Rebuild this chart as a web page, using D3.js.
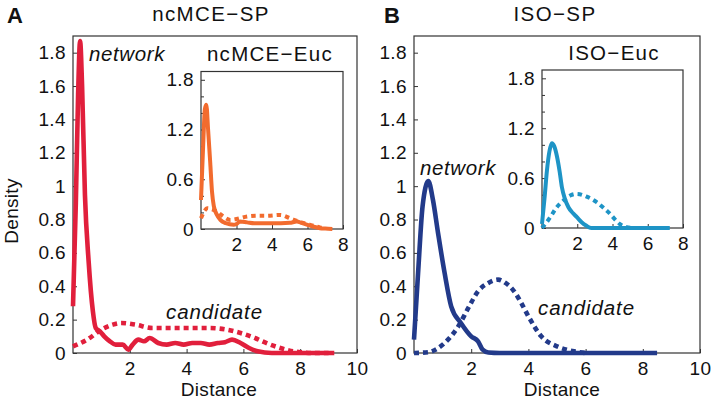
<!DOCTYPE html>
<html><head><meta charset="utf-8">
<script src="https://cdn.jsdelivr.net/npm/d3@7"></script>
<style>body{margin:0;background:#fff}svg{display:block;font-family:"Liberation Sans",Arial,sans-serif}</style>
</head><body><svg id="c" width="716" height="401"></svg>
<script>
// ---- data ----
const mainYTicks = [0,0.2,0.4,0.6,0.8,1,1.2,1.4,1.6,1.8];
const mainXTicks = [2,4,6,8,10];
const insetYTicks = [0,0.6,1.2,1.8];
const insetYMinor = [0.2,0.4,0.8,1.0,1.4,1.6];
const insetXTicks = [2,4,6,8];

const ncmceSpNetwork = [[0,0.28],[0.1,0.9],[0.18,1.55],[0.25,1.87],[0.32,1.6],[0.42,0.95],[0.55,0.55],[0.7,0.25],[0.8,0.15],[0.95,0.13],[1.1,0.1],[1.3,0.07],[1.5,0.05],[1.75,0.05],[1.95,0.02],[2.1,0.05],[2.3,0.08],[2.5,0.07],[2.7,0.09],[3.0,0.06],[3.3,0.05],[3.6,0.06],[3.9,0.05],[4.2,0.06],[4.5,0.06],[4.8,0.05],[5.1,0.06],[5.35,0.065],[5.6,0.08],[5.9,0.06],[6.2,0.03],[6.5,0.01],[7.0,0.0],[8.0,0.0],[9.2,0.0]];
const ncmceSpCandidate = [[0,0.04],[0.5,0.08],[1.0,0.14],[1.4,0.17],[1.7,0.18],[2.2,0.17],[2.8,0.15],[3.5,0.15],[4.2,0.15],[4.8,0.15],[5.4,0.14],[5.9,0.12],[6.4,0.09],[6.8,0.06],[7.2,0.035],[7.6,0.015],[8.0,0.005],[8.5,0.0],[9.0,0.0]];
const ncmceEucNetwork = [[0,0.35],[0.12,1.0],[0.22,1.45],[0.3,1.5],[0.4,1.2],[0.52,0.8],[0.62,0.45],[0.72,0.28],[0.9,0.17],[1.09,0.11],[1.4,0.07],[1.84,0.05],[2.0,0.06],[2.2,0.09],[2.6,0.08],[3.0,0.07],[3.5,0.07],[4.0,0.07],[4.5,0.07],[5.0,0.075],[5.4,0.09],[5.7,0.07],[6.0,0.05],[6.3,0.03],[6.7,0.01],[7.0,0.005],[7.4,0.0]];
const ncmceEucCandidate = [[0,0.13],[0.2,0.22],[0.34,0.25],[0.6,0.24],[0.9,0.21],[1.2,0.16],[1.65,0.11],[2.0,0.12],[2.6,0.15],[3.2,0.16],[3.7,0.16],[4.47,0.17],[5.0,0.13],[5.5,0.09],[6.0,0.06],[6.4,0.035],[6.7,0.02],[7.0,0.01]];
const isoSpNetwork = [[0,0.08],[0.15,0.5],[0.3,0.88],[0.5,1.03],[0.66,0.92],[0.84,0.72],[1.07,0.48],[1.3,0.28],[1.64,0.18],[2.0,0.1],[2.24,0.07],[2.4,0.02],[2.6,0.003],[3.0,0.0],[5.0,0.0],[8.5,0.0]];
const isoSpCandidate = [[0,0.0],[0.5,0.005],[0.8,0.025],[1.07,0.06],[1.55,0.16],[1.9,0.27],[2.24,0.37],[2.6,0.42],[2.94,0.44],[3.2,0.42],[3.5,0.37],[3.75,0.3],[4.0,0.22],[4.45,0.1],[5.0,0.04],[5.6,0.01],[6.0,0.0]];
const isoEucNetwork = [[0,0.05],[0.14,0.35],[0.28,0.69],[0.42,0.92],[0.56,1.02],[0.7,0.98],[0.85,0.86],[1.0,0.68],[1.13,0.49],[1.3,0.35],[1.5,0.25],[1.75,0.18],[1.98,0.13],[2.25,0.07],[2.5,0.03],[2.8,0.0],[4.0,0.0],[7.25,0.0]];
const isoEucCandidate = [[0,0.0],[0.2,0.05],[0.47,0.13],[0.8,0.24],[1.22,0.33],[1.6,0.39],[1.98,0.41],[2.5,0.38],[3.1,0.31],[3.5,0.24],[3.86,0.17],[4.2,0.09],[4.4,0.05],[4.8,0.01],[5.1,0.0]];

const colors = {red:"#e11f3c", orange:"#f26b2e", navy:"#223a8a", sky:"#1e94c6"};

const svg = d3.select("#c");

function panel(cfg){
  const x = d3.scaleLinear().domain(cfg.xDomain).range([cfg.left, cfg.right]);
  const y = d3.scaleLinear().domain([0,1.9]).range([cfg.bottom, cfg.top]);
  const g = svg.append("g");
  g.append("rect").attr("x",cfg.left).attr("y",cfg.top).attr("width",cfg.right-cfg.left).attr("height",cfg.bottom-cfg.top)
    .attr("fill","#fff").attr("stroke","#333").attr("stroke-width",1.2);
  const yAx = d3.axisLeft(y).tickValues(cfg.yTicks).tickSize(-4).tickPadding(7).tickFormat(d=>d3.format("~g")(d));
  const ya = g.append("g").attr("transform",`translate(${cfg.left},0)`).call(yAx);
  if(cfg.yMinor){
    g.append("g").attr("transform",`translate(${cfg.left},0)`).call(d3.axisLeft(y).tickValues(cfg.yMinor).tickSize(-3).tickFormat(""))
      .call(s=>s.select(".domain").remove()).selectAll("line").attr("stroke","#333");
  }
  const xAx = d3.axisBottom(x).tickValues(cfg.xTicks).tickSize(-4).tickPadding(9);
  const xa = g.append("g").attr("transform",`translate(0,${cfg.bottom})`).call(xAx);
  [ya,xa].forEach(a=>{
    a.select(".domain").remove();
    a.selectAll("line").attr("stroke","#333");
    a.selectAll("text").attr("font-size",19).attr("fill","#111").attr("letter-spacing",0.4).attr("font-family",'"Liberation Sans",Arial,sans-serif');
  });
  xa.selectAll("text").attr("dy","0.71em");
  const line = d3.line().x(d=>x(d[0])).y(d=>y(d[1])).curve(d3.curveMonotoneX);
  g.append("path").datum(cfg.cand).attr("d",line).attr("fill","none").attr("stroke",cfg.color)
    .attr("stroke-width",cfg.lw).attr("stroke-dasharray",cfg.dash);
  g.append("path").datum(cfg.net).attr("d",line).attr("fill","none").attr("stroke",cfg.color)
    .attr("stroke-width",cfg.lw).attr("stroke-linejoin","round");
  return {x,y,g};
}

panel({left:73,right:357,top:36,bottom:353,xDomain:[0,10],yTicks:mainYTicks,xTicks:mainXTicks,
  net:ncmceSpNetwork,cand:ncmceSpCandidate,color:colors.red,lw:4.6,dash:"5,4"});
panel({left:414,right:700,top:36,bottom:353,xDomain:[0,10],yTicks:mainYTicks,xTicks:mainXTicks,
  net:isoSpNetwork,cand:isoSpCandidate,color:colors.navy,lw:4.6,dash:"5,4"});
panel({left:201,right:343,top:71.5,bottom:229,xDomain:[0,8],yTicks:insetYTicks,yMinor:insetYMinor,xTicks:insetXTicks,
  net:ncmceEucNetwork,cand:ncmceEucCandidate,color:colors.orange,lw:4,dash:"4.5,4"});
panel({left:542,right:683,top:70,bottom:228,xDomain:[0,8],yTicks:insetYTicks,yMinor:insetYMinor,xTicks:insetXTicks,
  net:isoEucNetwork,cand:isoEucCandidate,color:colors.sky,lw:4,dash:"4.5,4"});

const T = (x,y,t,o={})=>svg.append("text").attr("x",x).attr("y",y).text(t)
  .attr("font-size",o.size||20).attr("text-anchor",o.anchor||"middle").attr("letter-spacing",o.ls||0)
  .attr("font-weight",o.weight||"normal").attr("font-style",o.style||"normal").attr("fill","#111");
T(7,23,"A",{anchor:"start",weight:"bold",size:22});
T(384,23,"B",{anchor:"start",weight:"bold",size:22});
T(211,21,"ncMCE\u2212SP",{size:20.5,ls:1.4});
T(270,61,"ncMCE\u2212Euc",{size:20.5,ls:1.3});
T(555,21,"ISO\u2212SP",{size:20.5,ls:1.4});
T(614,60,"ISO\u2212Euc",{size:20.5,ls:1.3});
T(89,61,"network",{anchor:"start",style:"italic",size:20.5,ls:0.6});
T(166,319,"candidate",{anchor:"start",style:"italic",size:20.5,ls:0.9});
T(420,175,"network",{anchor:"start",style:"italic",size:20.5,ls:0.6});
T(538,315,"candidate",{anchor:"start",style:"italic",size:20.5,ls:0.9});
T(219,396,"Distance",{size:19,ls:0.3});
T(562,396,"Distance",{size:19,ls:0.3});
svg.append("text").attr("transform","translate(18,211) rotate(-90)").attr("text-anchor","middle")
  .attr("font-size",19).attr("letter-spacing",0.3).attr("fill","#111").text("Density");
</script></body></html>
